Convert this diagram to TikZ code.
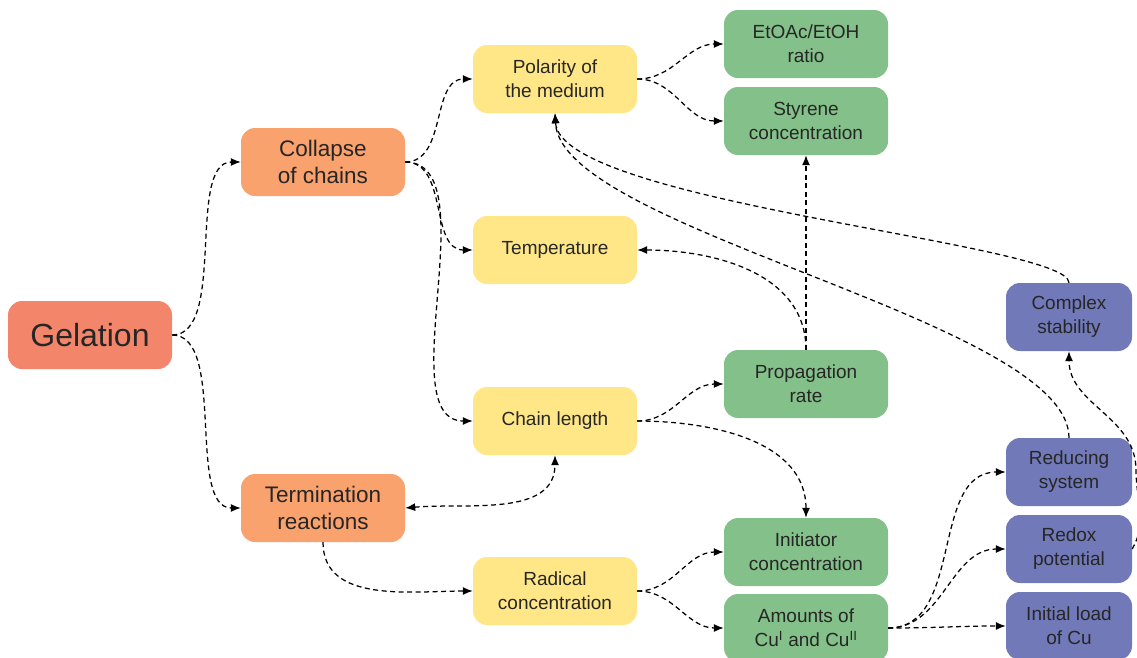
\documentclass[tikz,border=0pt]{standalone}
\usepackage{fontspec}
\setmainfont{Liberation Sans}
\usetikzlibrary{arrows.meta}

\definecolor{txt}{RGB}{38,38,38}
\definecolor{cRed}{RGB}{243,134,106}
\definecolor{cOrange}{RGB}{249,162,110}
\definecolor{cYellow}{RGB}{255,231,135}
\definecolor{cGreen}{RGB}{132,192,137}
\definecolor{cPurple}{RGB}{113,121,184}

\tikzset{
  box/.style={rounded corners=14pt, minimum height=68pt, align=center,
    text=txt, inner sep=0pt, font=\fontsize{19}{24}\selectfont},
  widebox/.style={box, minimum width=164pt},
  narrowbox/.style={box, minimum width=126pt},
  rootbox/.style={widebox, fill=cRed, font=\fontsize{32}{38}\selectfont},
  causebox/.style={widebox, fill=cOrange, font=\fontsize{22.5}{27}\selectfont},
  factorbox/.style={widebox, fill=cYellow},
  parambox/.style={widebox, fill=cGreen},
  chembox/.style={narrowbox, fill=cPurple},
  link/.style={line width=1.25pt, dash pattern=on 5pt off 3.5pt,
    -{Latex[length=10pt,width=8pt]}},
  biglink/.style={line width=1.25pt, dash pattern=on 5pt off 3.5pt,
    {Latex[length=10pt,width=8pt]}-{Latex[length=10pt,width=8pt]}},
}

\begin{document}
\begin{tikzpicture}[x=1pt, y=-1pt]
\useasboundingbox (0,0) rectangle (1137,657);

% first level
\node[rootbox] (gel) at (90,335) {Gelation};
\node[causebox] (col) at (323,162) {Collapse\\of chains};
\node[causebox] (ter) at (323,508) {Termination\\reactions};

% second level
\node[factorbox] (pol) at (555,79) {Polarity of\\the medium};
\node[factorbox] (tem) at (555,250) {Temperature};
\node[factorbox] (chl) at (555,421) {Chain length};
\node[factorbox] (rad) at (555,591) {Radical\\concentration};

% experimental parameters
\node[parambox] (eto) at (806,44) {EtOAc/EtOH\\ratio};
\node[parambox] (sty) at (806,121) {Styrene\\concentration};
\node[parambox] (pro) at (806,384) {Propagation\\rate};
\node[parambox] (ini) at (806,552) {Initiator\\concentration};
\node[parambox] (amo) at (806,628) {Amounts of\\Cu\textsuperscript{I} and Cu\textsuperscript{II}};

% copper chemistry
\node[chembox] (cst) at (1069,317) {Complex\\stability};
\node[chembox] (red) at (1069,472) {Reducing\\system};
\node[chembox] (rdx) at (1069,549) {Redox\\potential};
\node[chembox] (ild) at (1069,626) {Initial load\\of Cu};

\coordinate (edge) at (1136,470);

% connectors
\draw[link] (gel.east) to[out=0,in=180,looseness=0.75] (col.west);
\draw[link] (gel.east) to[out=0,in=180,looseness=0.75] (ter.west);

\draw[link] (col.east) to[out=0,in=180] (pol.west);
\draw[link] (col.east) to[out=0,in=180] (tem.west);
\draw[link] (col.east) to[out=0,in=180,looseness=0.8] (chl.west);

\draw[link] (pol.east) to[out=0,in=180] (eto.west);
\draw[link] (pol.east) to[out=0,in=180] (sty.west);

\draw[link] (chl.east) to[out=0,in=180] (pro.west);
\draw[link] (chl.east) to[out=0,in=90] (ini.north);

\draw[biglink] (ter.east) to[out=5,in=-90] (chl.south);
\draw[link] (ter.south) to[out=-90,in=180] (rad.west);

\draw[link] (rad.east) to[out=0,in=180] (ini.west);
\draw[link] (rad.east) to[out=0,in=180] (amo.west);

\draw[link] (amo.east) to[out=0,in=180] (red.west);
\draw[link] (amo.east) to[out=0,in=180] (rdx.west);
\draw[link] (amo.east) to[out=0,in=180] (ild.west);

\draw[link] (pro.north) -- (sty.south);
\draw[link] (pro.north) to[out=90,in=0] (tem.east);

\draw[link] (cst.north) .. controls +(0,-40) and +(5,90) .. (pol.south);
\draw[link] (red.north) .. controls +(0,-117) and +(5,117) .. (pol.south);

\draw[link] (rdx.east) to[out=60,in=-90] (edge) to[out=90,in=-90] (cst.south);
\end{tikzpicture}
\end{document}
